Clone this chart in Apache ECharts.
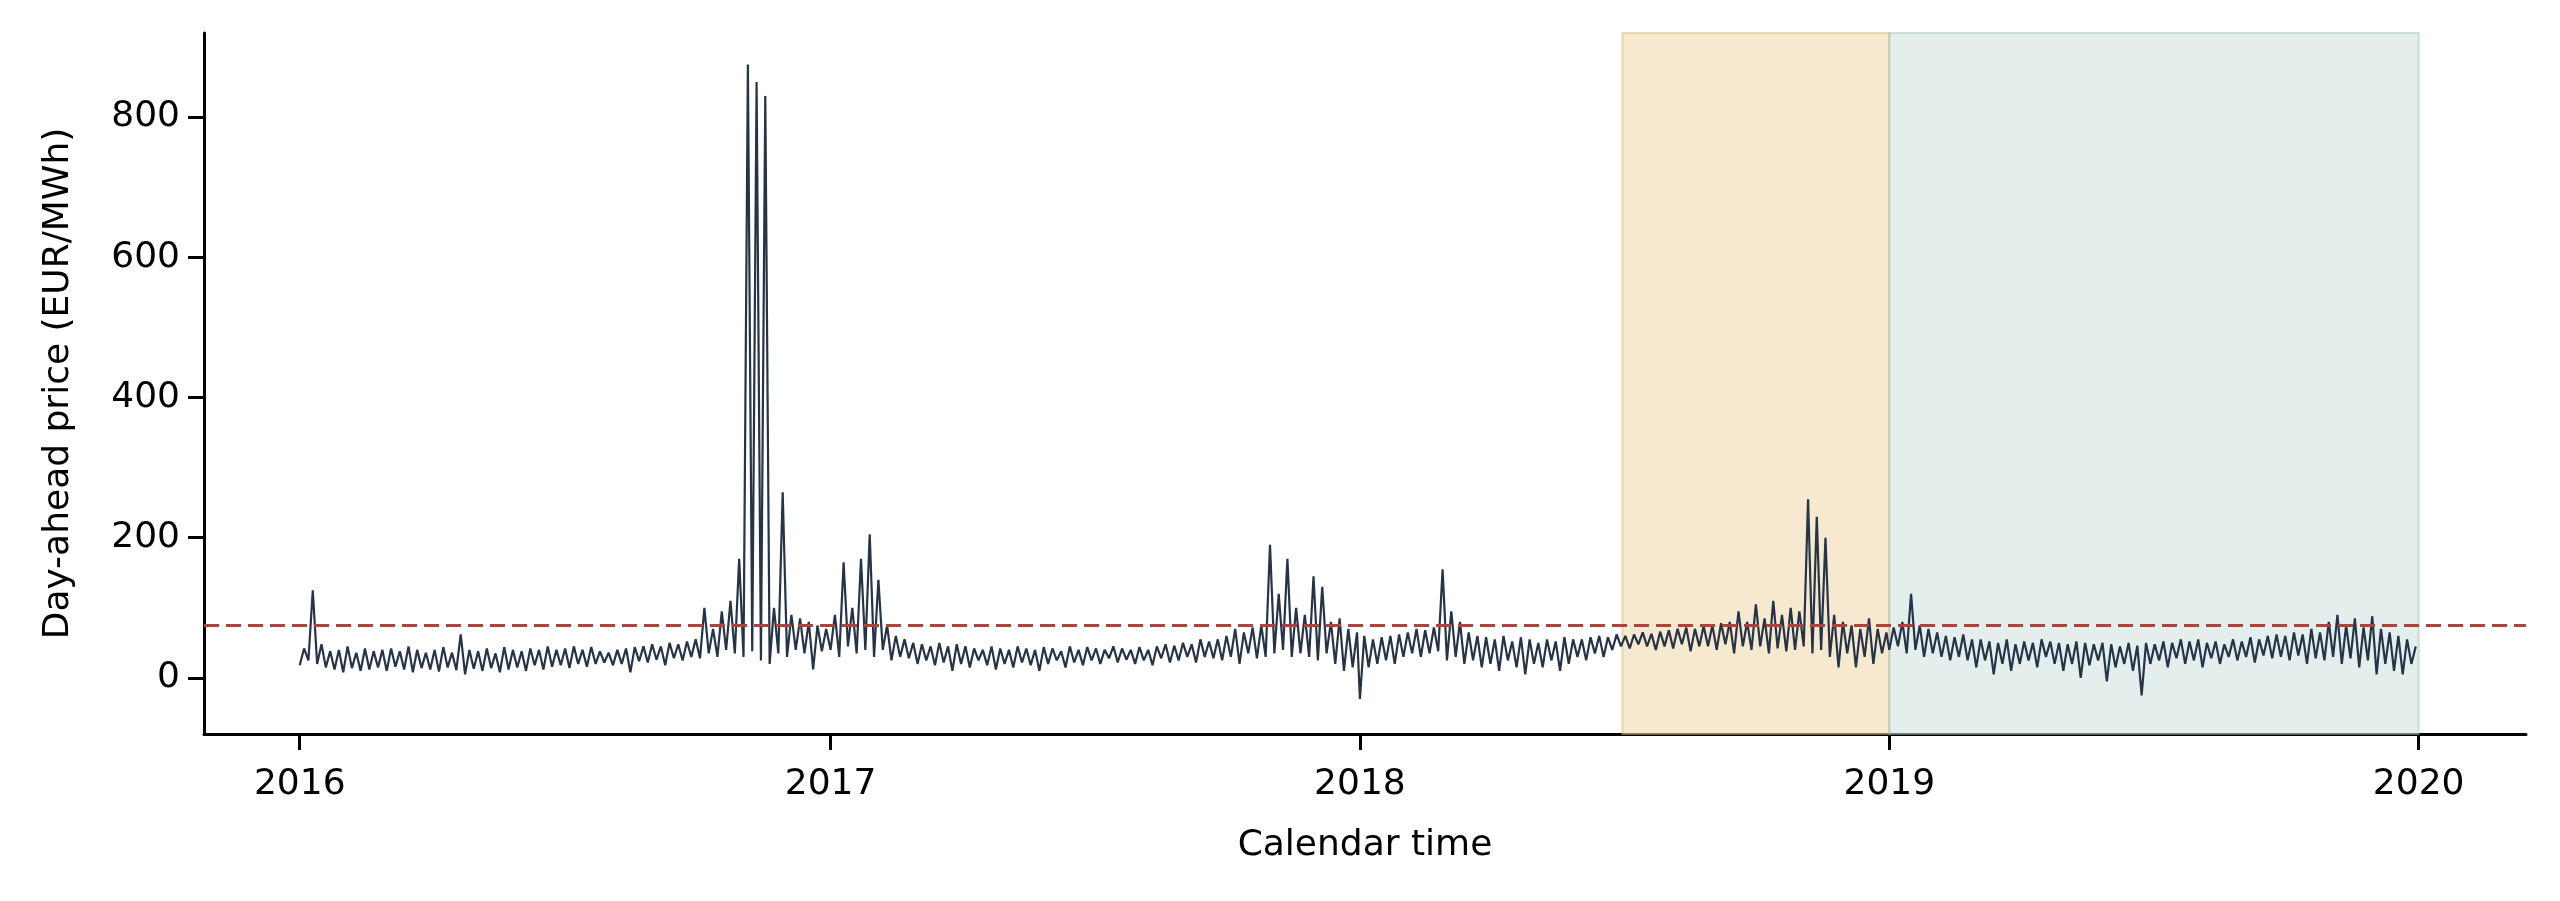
<!DOCTYPE html>
<html><head><meta charset="utf-8">
<script src="https://cdn.jsdelivr.net/npm/echarts@6/dist/echarts.min.js"></script>
<style>html,body{margin:0;background:#fff}#c{width:2560px;height:901px}</style>
</head><body><div id="c"></div>
<script>
// Values sampled every 3 days from Jan 1 of each year (alternating low/high of the hourly band)
const years = [2016, 2017, 2018, 2019];
const price2016 = [18,42,25,125,20,48,15,38,12,40, 8,45,14,36,10,42,12,38,15,40, 10,42,16,38,12,45,8,40,14,36,
 12,40,9,44,15,36,11,62,5,40, 13,38,10,42,14,35,8,44,12,40, 15,38,10,42,18,40,12,45,16,40,
 18,42,14,45,20,40,16,44,20,38, 22,36,18,40,20,42,8,44,24,45, 22,48,26,45,18,50,28,48,25,52,
 30,55,28,100,35,70,30,95,40,110, 35,170,30,875,38,850,25,830,20,100, 35,265,30,90,40,85,35,80,12,75,38,70];
const price2017 = [40,90,30,165,45,100,35,170,40,205, 30,140,40,75,25,60,30,55,28,50, 20,48,25,45,18,50,22,45,10,48,
 20,45,15,42,25,40,18,45,12,42, 20,40,15,45,22,42,18,40,10,44, 20,42,25,38,15,45,22,40,18,44,
 25,42,20,40,28,45,22,42,26,40, 20,44,25,40,18,45,28,48,22,46, 25,50,30,48,22,55,30,52,28,55,
 25,60,30,70,20,65,35,72,28,75, 30,190,35,120,40,170,30,100,35,90, 30,145,25,130,35,80,20,85,10,70,15,65];
const price2018 = [-30,60,15,55,20,58,25,60,20,62, 30,65,35,70,30,68,35,72,38,155, 25,95,30,80,20,65,25,60,15,58,
 20,55,10,60,25,52,15,58,5,55, 20,50,15,55,25,52,10,58,20,55, 30,55,25,58,35,60,30,58,40,62,
 45,60,42,62,48,65,45,63,40,66, 45,68,42,70,48,72,38,70,45,74, 45,75,40,78,48,80,35,95,45,80,
 40,105,45,85,35,110,42,90,38,100, 40,95,45,255,35,230,40,200,30,90, 15,80,35,75,15,70,30,85,20,70,35,65];
const price2019 = [40,72,45,80,35,120,40,75,30,70, 35,65,30,60,25,58,30,62,25,55, 15,55,25,52,5,50,20,55,10,48,
 20,52,25,50,15,55,30,52,20,50, 10,48,20,52,0,50,18,48,25,50, -5,48,15,45,20,50,10,46,-25,50,
 20,48,25,52,15,50,28,55,20,52, 25,55,15,50,28,52,20,48,30,55, 25,52,30,58,22,55,32,60,28,62,
 30,60,25,65,32,62,20,70,28,65, 25,80,30,90,20,75,28,85,15,72, 25,88,5,70,20,65,10,60,5,55,20,45];
const threshold = 75;
const yTicks = [0, 200, 400, 600, 800];
const xTickLabels = ['2016', '2017', '2018', '2019', '2020'];
const bandOrange = ['2018-07-01', '2019-01-01'];
const bandTeal = ['2019-01-01', '2020-01-01'];

const DAY = 86400000;
const all = [price2016, price2017, price2018, price2019];
const data = [];
all.forEach((arr, k) => {
  const t0 = Date.UTC(years[k], 0, 1);
  arr.forEach((v, i) => data.push([t0 + i * 3 * DAY, v]));
});
const ts = s => Date.parse(s + 'T00:00:00Z');
const xTicks = xTickLabels.map(y => ts(y + '-01-01'));
const font = 'DejaVu Sans';
const chart = echarts.init(document.getElementById('c'));
chart.setOption({
  animation: false,
  grid: {left: 204, right: 34, top: 33, bottom: 167},
  xAxis: {
    type: 'value', min: ts('2015-10-27'), max: ts('2020-03-15'),
    name: 'Calendar time', nameLocation: 'middle', nameGap: 94,
    nameTextStyle: {fontFamily: font, fontSize: 36, color: '#000'},
    axisLine: {onZero: false, lineStyle: {color: '#000', width: 3}},
    axisTick: {show: true, length: 16, lineStyle: {color: '#000', width: 3}, customValues: xTicks},
    axisLabel: {fontFamily: font, fontSize: 36, color: '#000', margin: 33, customValues: xTicks,
      formatter: v => String(new Date(v).getUTCFullYear())},
    splitLine: {show: false}
  },
  yAxis: {
    type: 'value', min: -80, max: 920,
    name: 'Day-ahead price (EUR/MWh)', nameLocation: 'middle', nameGap: 127,
    nameTextStyle: {fontFamily: font, fontSize: 36, color: '#000'},
    axisLine: {show: true, onZero: false, lineStyle: {color: '#000', width: 3}},
    axisTick: {show: true, length: 16, lineStyle: {color: '#000', width: 3}, customValues: yTicks},
    axisLabel: {fontFamily: font, fontSize: 36, color: '#000', margin: 24, customValues: yTicks},
    splitLine: {show: false}
  },
  series: [{
    type: 'line', data: data, showSymbol: false, symbol: 'none',
    lineStyle: {color: '#253447', width: 2.2},
    markArea: {silent: true, data: [
      [{xAxis: ts(bandOrange[0]), yAxis: -80, itemStyle: {color: 'rgba(232,190,120,0.35)', borderColor: 'rgba(225,185,110,0.5)', borderWidth: 2}}, {xAxis: ts(bandOrange[1]), yAxis: 920}],
      [{xAxis: ts(bandTeal[0]), yAxis: -80, itemStyle: {color: 'rgba(170,205,198,0.32)', borderColor: 'rgba(160,200,190,0.5)', borderWidth: 2}}, {xAxis: ts(bandTeal[1]), yAxis: 920}]
    ]},
    markLine: {silent: true, symbol: 'none', label: {show: false},
      lineStyle: {color: '#b5403a', type: [15, 7], width: 3},
      data: [{yAxis: threshold}]}
  }]
});
</script></body></html>
